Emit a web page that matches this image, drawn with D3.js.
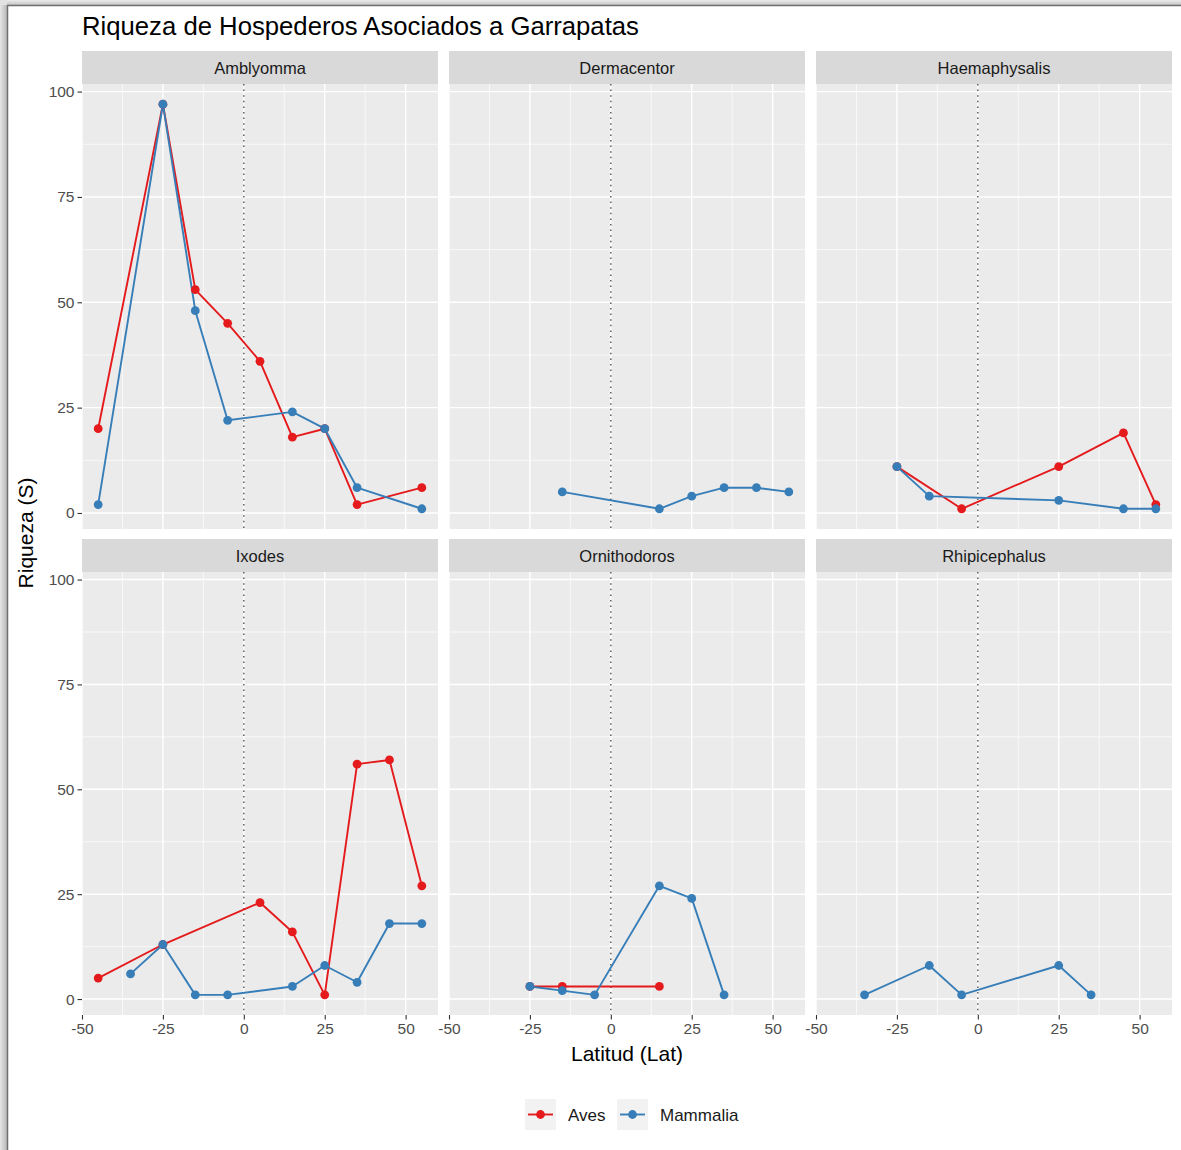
<!DOCTYPE html>
<html>
<head>
<meta charset="utf-8">
<script src="https://cdn.jsdelivr.net/npm/d3@7/dist/d3.min.js"></script>
<style>
  html, body { margin: 0; padding: 0; background: #fff; }
  svg { display: block; font-family: "Liberation Sans", Arial, Helvetica, sans-serif; }
</style>
</head>
<body>
<svg id="chart" width="1181" height="1150"></svg>
<script>
// Host richness (S) by latitude bin, per tick genus and host class
const genera = ["Amblyomma", "Dermacentor", "Haemaphysalis", "Ixodes", "Ornithodoros", "Rhipicephalus"];
const hostClasses = ["Aves", "Mammalia"];
const classColors = ["#E41A1C", "#377EB8"];

// [latitude, richness]
const amblyommaAves      = [[-45, 20], [-25, 97], [-15, 53], [-5, 45], [5, 36], [15, 18], [25, 20], [35, 2], [55, 6]];
const amblyommaMammalia  = [[-45, 2], [-25, 97], [-15, 48], [-5, 22], [15, 24], [25, 20], [35, 6], [55, 1]];
const dermacentorAves     = [];
const dermacentorMammalia = [[-15, 5], [15, 1], [25, 4], [35, 6], [45, 6], [55, 5]];
const haemaphysalisAves     = [[-25, 11], [-5, 1], [25, 11], [45, 19], [55, 2]];
const haemaphysalisMammalia = [[-25, 11], [-15, 4], [25, 3], [45, 1], [55, 1]];
const ixodesAves     = [[-45, 5], [-25, 13], [5, 23], [15, 16], [25, 1], [35, 56], [45, 57], [55, 27]];
const ixodesMammalia = [[-35, 6], [-25, 13], [-15, 1], [-5, 1], [15, 3], [25, 8], [35, 4], [45, 18], [55, 18]];
const ornithodorosAves     = [[-25, 3], [-15, 3], [15, 3]];
const ornithodorosMammalia = [[-25, 3], [-15, 2], [-5, 1], [15, 27], [25, 24], [35, 1]];
const rhipicephalusAves     = [];
const rhipicephalusMammalia = [[-35, 1], [-15, 8], [-5, 1], [25, 8], [35, 1]];

const xTicks = [-50, -25, 0, 25, 50];
const yTicks = [0, 25, 50, 75, 100];
const xDomain = [-50, 60];
const yDomain = [-3.8, 101.8];

const seriesByGenus = [
  [amblyommaAves, amblyommaMammalia],
  [dermacentorAves, dermacentorMammalia],
  [haemaphysalisAves, haemaphysalisMammalia],
  [ixodesAves, ixodesMammalia],
  [ornithodorosAves, ornithodorosMammalia],
  [rhipicephalusAves, rhipicephalusMammalia]
];

const svg = d3.select("#chart");
const W = 1181, H = 1150;

// page background with a soft left/top drop shadow frame
const defs = svg.append("defs");
const gl = defs.append("linearGradient").attr("id", "shL").attr("x1", 0).attr("x2", 1).attr("y1", 0).attr("y2", 0);
gl.append("stop").attr("offset", 0).attr("stop-color", "#e6e6e6");
gl.append("stop").attr("offset", 1).attr("stop-color", "#b9b9b9");
const gt = defs.append("linearGradient").attr("id", "shT").attr("x1", 0).attr("x2", 0).attr("y1", 0).attr("y2", 1);
gt.append("stop").attr("offset", 0).attr("stop-color", "#ececec");
gt.append("stop").attr("offset", 1).attr("stop-color", "#c4c4c4");

svg.append("rect").attr("width", W).attr("height", H).attr("fill", "#fff");
svg.append("rect").attr("x", 0).attr("y", 0).attr("width", 7).attr("height", H).attr("fill", "url(#shL)");
svg.append("rect").attr("x", 0).attr("y", 0).attr("width", W).attr("height", 5).attr("fill", "url(#shT)");
svg.append("rect").attr("x", 0).attr("y", 0).attr("width", 7).attr("height", 5).attr("fill", "#e2e2e2");
svg.append("line").attr("x1", 7.5).attr("x2", 7.5).attr("y1", 5).attr("y2", H).attr("stroke", "#707070").attr("stroke-width", 1.5);
svg.append("line").attr("x1", 7).attr("x2", W).attr("y1", 5.5).attr("y2", 5.5).attr("stroke", "#707070").attr("stroke-width", 1.5);

// facet layout
const colX = [82, 449, 816];
const panelW = 356;
const stripTop = [51, 539];
const stripH = 33;
const plotBottom = [529, 1015];

const tickColor = "#333333";
const labelColor = "#4D4D4D";
const plainNumber = d => String(d);

genera.forEach((genus, i) => {
  const col = i % 3, row = Math.floor(i / 3);
  const x0 = colX[col];
  const top = stripTop[row] + stripH;
  const bottom = plotBottom[row];

  const x = d3.scaleLinear().domain(xDomain).range([x0, x0 + panelW]);
  const y = d3.scaleLinear().domain(yDomain).range([bottom, top]);

  const g = svg.append("g");

  // strip
  g.append("rect").attr("x", x0).attr("y", stripTop[row]).attr("width", panelW).attr("height", stripH).attr("fill", "#D9D9D9");
  g.append("text").attr("x", x0 + panelW / 2).attr("y", stripTop[row] + stripH / 2)
    .attr("text-anchor", "middle").attr("dominant-baseline", "central")
    .attr("font-size", 16.5).attr("fill", "#1A1A1A").text(genus);

  // panel background
  g.append("rect").attr("x", x0).attr("y", top).attr("width", panelW).attr("height", bottom - top).attr("fill", "#EBEBEB");

  // minor grid (midpoints between major ticks)
  const xMinor = d3.pairs(xTicks.concat([75])).map(([a, b]) => (a + b) / 2).filter(v => v > xDomain[0] && v < xDomain[1]);
  const yMinor = d3.pairs(yTicks).map(([a, b]) => (a + b) / 2);
  g.selectAll(".xminor").data(xMinor).join("line")
    .attr("x1", d => x(d)).attr("x2", d => x(d)).attr("y1", top).attr("y2", bottom)
    .attr("stroke", "#fff").attr("stroke-width", 0.7);
  g.selectAll(".yminor").data(yMinor).join("line")
    .attr("x1", x0).attr("x2", x0 + panelW).attr("y1", d => y(d)).attr("y2", d => y(d))
    .attr("stroke", "#fff").attr("stroke-width", 0.7);
  // major grid
  g.selectAll(".xmajor").data(xTicks).join("line")
    .attr("x1", d => x(d)).attr("x2", d => x(d)).attr("y1", top).attr("y2", bottom)
    .attr("stroke", "#fff").attr("stroke-width", 1.4);
  g.selectAll(".ymajor").data(yTicks).join("line")
    .attr("x1", x0).attr("x2", x0 + panelW).attr("y1", d => y(d)).attr("y2", d => y(d))
    .attr("stroke", "#fff").attr("stroke-width", 1.4);

  // equator reference
  g.append("line").attr("x1", x(0)).attr("x2", x(0)).attr("y1", top).attr("y2", bottom)
    .attr("stroke", "#555").attr("stroke-width", 1.4).attr("stroke-dasharray", "1.5,4.1");

  // series
  const line = d3.line().x(d => x(d[0])).y(d => y(d[1]));
  seriesByGenus[i].forEach((pts, k) => {
    if (pts.length > 1) {
      g.append("path").datum(pts).attr("d", line).attr("fill", "none")
        .attr("stroke", classColors[k]).attr("stroke-width", 1.9).attr("stroke-linejoin", "round");
    }
  });
  seriesByGenus[i].forEach((pts, k) => {
    g.selectAll(null).data(pts).join("circle")
      .attr("cx", d => x(d[0])).attr("cy", d => y(d[1])).attr("r", 4.4).attr("fill", classColors[k]);
  });

  // axes on outer panels only
  if (col === 0) {
    const ax = g.append("g").attr("transform", `translate(${x0},0)`)
      .call(d3.axisLeft(y).tickValues(yTicks).tickFormat(plainNumber).tickSize(4.5).tickPadding(3));
    ax.select(".domain").remove();
    ax.selectAll("line").attr("stroke", tickColor).attr("stroke-width", 1.1);
    ax.selectAll("text").attr("fill", labelColor).attr("font-size", 15.5).attr("font-family", null);
  }
  if (row === 1) {
    const ax = g.append("g").attr("transform", `translate(0,${bottom})`)
      .call(d3.axisBottom(x).tickValues(xTicks).tickFormat(plainNumber).tickSize(4.5).tickPadding(3));
    ax.select(".domain").remove();
    ax.selectAll("line").attr("stroke", tickColor).attr("stroke-width", 1.1);
    ax.selectAll("text").attr("fill", labelColor).attr("font-size", 15.5).attr("font-family", null);
  }
});

// titles
svg.append("text").attr("x", 82).attr("y", 35).attr("font-size", 25.7).attr("fill", "#000")
  .text("Riqueza de Hospederos Asociados a Garrapatas");
svg.append("text").attr("x", (colX[0] + colX[2] + panelW) / 2).attr("y", 1061)
  .attr("text-anchor", "middle").attr("font-size", 21).attr("fill", "#000").text("Latitud (Lat)");
svg.append("text").attr("transform", `translate(33,${(stripTop[0] + plotBottom[1]) / 2}) rotate(-90)`)
  .attr("text-anchor", "middle").attr("font-size", 21).attr("fill", "#000").text("Riqueza (S)");

// legend
const legendX = [525, 617];
const legendTextX = [568, 660];
hostClasses.forEach((name, k) => {
  const lg = svg.append("g");
  lg.append("rect").attr("x", legendX[k]).attr("y", 1099).attr("width", 31).attr("height", 31).attr("fill", "#F2F2F2");
  lg.append("line").attr("x1", legendX[k] + 3).attr("x2", legendX[k] + 28).attr("y1", 1114.5).attr("y2", 1114.5)
    .attr("stroke", classColors[k]).attr("stroke-width", 1.9);
  lg.append("circle").attr("cx", legendX[k] + 15.5).attr("cy", 1114.5).attr("r", 4.4).attr("fill", classColors[k]);
  lg.append("text").attr("x", legendTextX[k]).attr("y", 1115).attr("dominant-baseline", "central")
    .attr("font-size", 17).attr("fill", "#1A1A1A").text(name);
});
</script>
</body>
</html>
